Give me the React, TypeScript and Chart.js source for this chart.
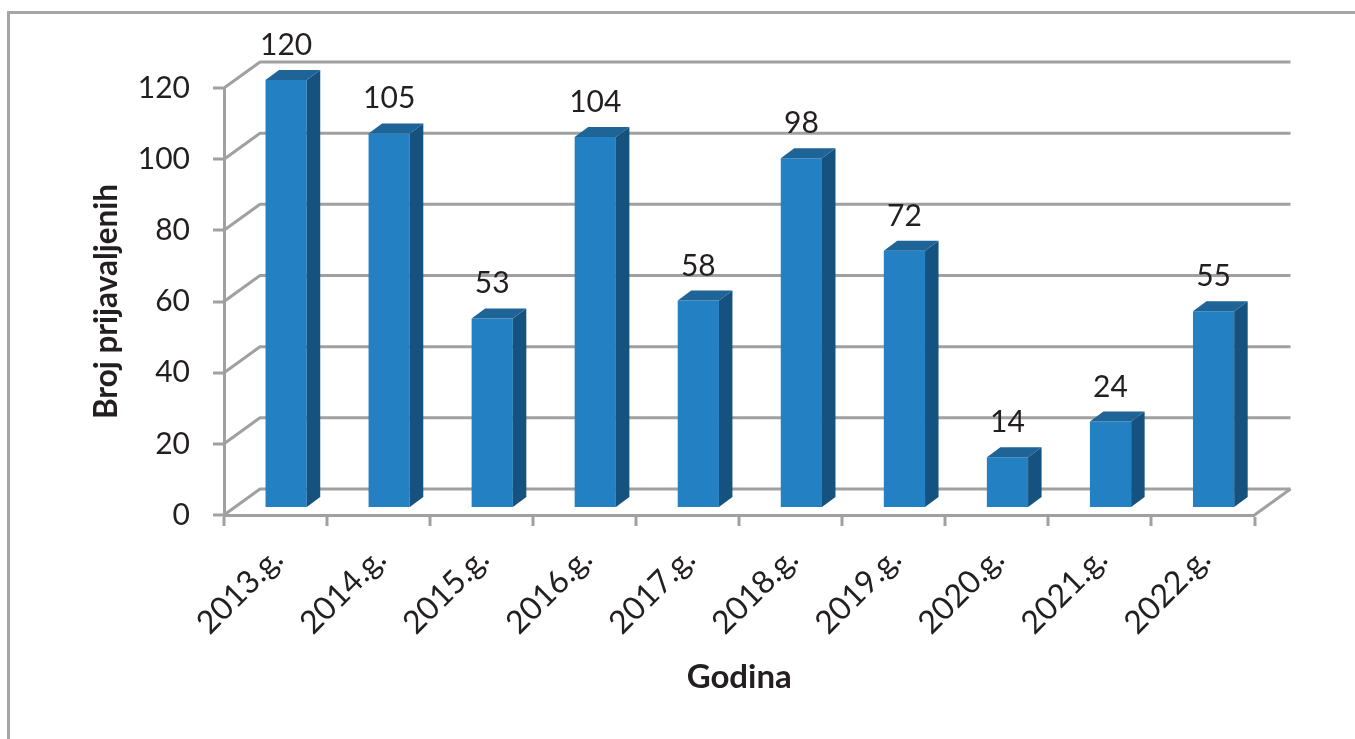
import React, { useEffect, useRef } from "react";
import { Chart, registerables } from "chart.js";

Chart.register(...registerables);

const categories = ["2013.g.", "2014.g.", "2015.g.", "2016.g.", "2017.g.", "2018.g.", "2019.g.", "2020.g.", "2021.g.", "2022.g."];
const values = [120, 105, 53, 104, 58, 98, 72, 14, 24, 55];
const yTitle = "Broj prijavaljenih";
const xTitle = "Godina";

const GRID = "#a0a0a0";
const INK = "#231f20";
const FONT = "Lato, Carlito, sans-serif";
const BACK_DX = 36;
const BACK_DY = 26;
const BAR_DX = 10.6;
const BAR_DY = 8;
const DEPTH_X = 13.5;
const DEPTH_Y = 10;
const LABEL_GAP = 25;

const poly = (ctx: CanvasRenderingContext2D, pts: number[][], fill: string) => {
  ctx.beginPath();
  pts.forEach((p, i) => (i ? ctx.lineTo(p[0], p[1]) : ctx.moveTo(p[0], p[1])));
  ctx.closePath();
  ctx.fillStyle = fill;
  ctx.fill();
};

const threeD = {
  id: "threeD",
  beforeDatasetsDraw(chart: any) {
    const { ctx, chartArea, scales } = chart;
    const { left, right, bottom } = chartArea;
    ctx.save();
    ctx.strokeStyle = GRID;
    ctx.lineWidth = 3;
    ctx.lineJoin = "round";
    scales.y.ticks.forEach((t: any) => {
      const y = scales.y.getPixelForValue(t.value);
      ctx.beginPath();
      ctx.moveTo(left, y);
      ctx.lineTo(left + BACK_DX, y - BACK_DY);
      ctx.lineTo(right + BACK_DX, y - BACK_DY);
      ctx.stroke();
    });
    ctx.beginPath();
    ctx.moveTo(right, bottom);
    ctx.lineTo(right + BACK_DX, bottom - BACK_DY);
    ctx.stroke();
    ctx.restore();
    ctx.save();
    ctx.translate(BAR_DX, -BAR_DY);
  },
  afterDatasetsDraw(chart: any) {
    const { ctx } = chart;
    chart.getDatasetMeta(0).data.forEach((el: any) => {
      const l = el.x - el.width / 2;
      const r = el.x + el.width / 2;
      poly(ctx, [[r, el.y], [r + DEPTH_X, el.y - DEPTH_Y], [r + DEPTH_X, el.base - DEPTH_Y], [r, el.base]], "#15527f");
      poly(ctx, [[l, el.y], [l + DEPTH_X, el.y - DEPTH_Y], [r + DEPTH_X, el.y - DEPTH_Y], [r, el.y]], "#1e6496");
    });
    ctx.restore();
    ctx.save();
    ctx.fillStyle = INK;
    ctx.font = `30px ${FONT}`;
    ctx.textAlign = "center";
    ctx.textBaseline = "alphabetic";
    chart.getDatasetMeta(0).data.forEach((el: any, i: number) => {
      ctx.fillText(String(values[i]), el.x + BAR_DX, el.y - BAR_DY - LABEL_GAP);
    });
    ctx.restore();
  },
};

export default function App() {
  const ref = useRef<HTMLCanvasElement>(null);
  useEffect(() => {
    const chart = new Chart(ref.current!, {
      type: "bar",
      data: {
        labels: categories,
        datasets: [
          {
            data: values,
            backgroundColor: "#2380c3",
            borderWidth: 0,
            barPercentage: 0.4,
            categoryPercentage: 1,
            clip: false as any,
          },
        ],
      },
      options: {
        responsive: false,
        animation: false,
        layout: { padding: { top: 88, right: 100.5, left: 0, bottom: 0 } },
        plugins: { legend: { display: false }, tooltip: { enabled: false } },
        scales: {
          x: {
            afterFit(s: any) {
              s.height = 224;
              s.paddingLeft = 0;
              s.paddingRight = 0;
            },
            grid: { drawOnChartArea: false, drawTicks: true, tickLength: 11, tickColor: GRID, tickWidth: 3, color: GRID, lineWidth: 0 },
            border: { display: true, color: GRID, width: 3 },
            ticks: {
              autoSkip: false,
              minRotation: 45,
              maxRotation: 45,
              padding: 14,
              labelOffset: 2,
              color: INK,
              font: { family: FONT, size: 32 },
            },
            title: {
              display: true,
              text: xTitle,
              color: INK,
              font: { family: FONT, size: 33, weight: "bold", lineHeight: 1 },
              padding: { top: 0, bottom: 45.5 },
            },
          },
          y: {
            min: 0,
            max: 120,
            afterFit(s: any) {
              s.width = 224;
              s.paddingTop = 0;
              s.paddingBottom = 0;
            },
            grid: { drawOnChartArea: false, drawTicks: true, tickLength: 11, tickColor: GRID, tickWidth: 3, color: GRID, lineWidth: 0 },
            border: { display: true, color: GRID, width: 3 },
            ticks: {
              stepSize: 20,
              padding: 23,
              color: INK,
              font: { family: FONT, size: 30 },
            },
            title: {
              display: true,
              text: yTitle,
              color: INK,
              font: { family: FONT, size: 31.5, weight: "bold", lineHeight: 1 },
              padding: { top: 91.25, bottom: 0 },
            },
          },
        },
      },
      plugins: [threeD],
    } as any);
    return () => chart.destroy();
  }, []);
  return (
    <div style={{ position: "fixed", left: 0, top: 0, width: 1355, height: 739, background: "#fff", overflow: "hidden" }}>
      <canvas ref={ref} width={1355} height={739} style={{ position: "absolute", left: 0, top: 0 }} />
      <div
        style={{
          position: "absolute",
          left: 7,
          top: 11,
          right: 0,
          bottom: 0,
          borderTop: "3px solid #a6a6a6",
          borderLeft: "3px solid #a6a6a6",
          pointerEvents: "none",
        }}
      />
    </div>
  );
}
